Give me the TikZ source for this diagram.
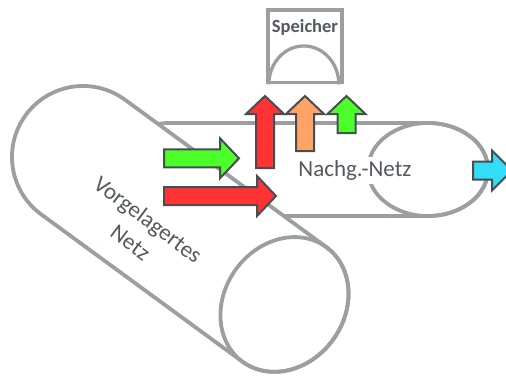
\documentclass[tikz,border=0pt]{standalone}
\usepackage{fontspec}
\setmainfont{Carlito}
\definecolor{rohrgrau}{RGB}{155,159,162}
\definecolor{randgrau}{RGB}{72,77,83}
\definecolor{textgrau}{RGB}{84,89,95}
\definecolor{pfeilgruen}{RGB}{76,255,42}
\definecolor{pfeilrot}{RGB}{255,51,51}
\definecolor{pfeilorange}{RGB}{255,163,102}
\definecolor{pfeilcyan}{RGB}{51,221,245}
\tikzset{
	rohr/.style={draw=rohrgrau,line width=3.8pt},
	pfeil/.style={draw=randgrau,line width=2pt,line join=miter},
}
\begin{document}
\begin{tikzpicture}[x=1pt,y=1pt]
		\useasboundingbox (0,0) rectangle (506,376);
		\draw[rohr,fill=white] (170,253) -- (428,253) arc[start angle=90,end angle=-90,x radius=60,y radius=46.5] -- (170,160) arc[start angle=270,end angle=90,x radius=60,y radius=46.5] -- cycle;
		\draw[rohr] (428,206.5) ellipse[x radius=60,y radius=46.5];
		\node[anchor=base,fill=white,inner sep=4pt,text=textgrau,font=\fontsize{23}{28}\selectfont] (nachg) at (355,199.5) {Nachg.-Netz};
		\begin{scope}[shift={(83,219)},rotate=-36.2]
		\draw[rohr,fill=white] (0,71) arc[start angle=90,end angle=270,radius=71] -- (249.7,-71) arc[start angle=-90,end angle=90,x radius=60,y radius=71] -- cycle;
		\draw[rohr] (249.7,0) ellipse[x radius=60,y radius=71];
		\end{scope}
		\node[rotate=-37,align=center,text=textgrau,font=\fontsize{23}{29}\selectfont] (vorg) at (139.5,145) {Vorgelagertes\\Netz};
		\node[draw=rohrgrau,line width=3.3pt,fill=white,minimum width=74pt,minimum height=72.7pt,inner sep=0pt] (speicher) at (305,329.65) {};
		\draw[draw=rohrgrau,line width=3.3pt] ([xshift=2.5pt]speicher.south west) arc[start angle=180,end angle=0,x radius=35,y radius=38.4];
		\node[anchor=base,text=textgrau,font=\bfseries\fontsize{18.5}{22}\selectfont] (speichertext) at ([yshift=-24.3pt]speicher.north) {Speicher};
		\draw[pfeil,fill=pfeilgruen] (164,208.7) -- (220,208.7) -- (220,197.7) -- (239,217.7) -- (220,237.7) -- (220,226.7) -- (164,226.7) -- cycle;
		\draw[pfeil,fill=pfeilrot] (164,171) -- (257,171) -- (257,160) -- (276,180) -- (257,200) -- (257,189) -- (164,189) -- cycle;
		\draw[pfeil,fill=pfeilrot] (256,208) -- (256,262) -- (246,262) -- (265,280) -- (284,262) -- (274,262) -- (274,208) -- cycle;
		\draw[pfeil,fill=pfeilorange] (296,225) -- (296,262) -- (286,262) -- (305,280) -- (324,262) -- (314,262) -- (314,225) -- cycle;
		\draw[pfeil,fill=pfeilgruen] (337.5,243) -- (337.5,262) -- (327.5,262) -- (346.5,280) -- (365.5,262) -- (355.5,262) -- (355.5,243) -- cycle;
		\draw[pfeil,fill=pfeilcyan] (473,196.5) -- (492,196.5) -- (492,185.5) -- (512,205.5) -- (492,225.5) -- (492,214.5) -- (473,214.5) -- cycle;
\end{tikzpicture}
\end{document}
